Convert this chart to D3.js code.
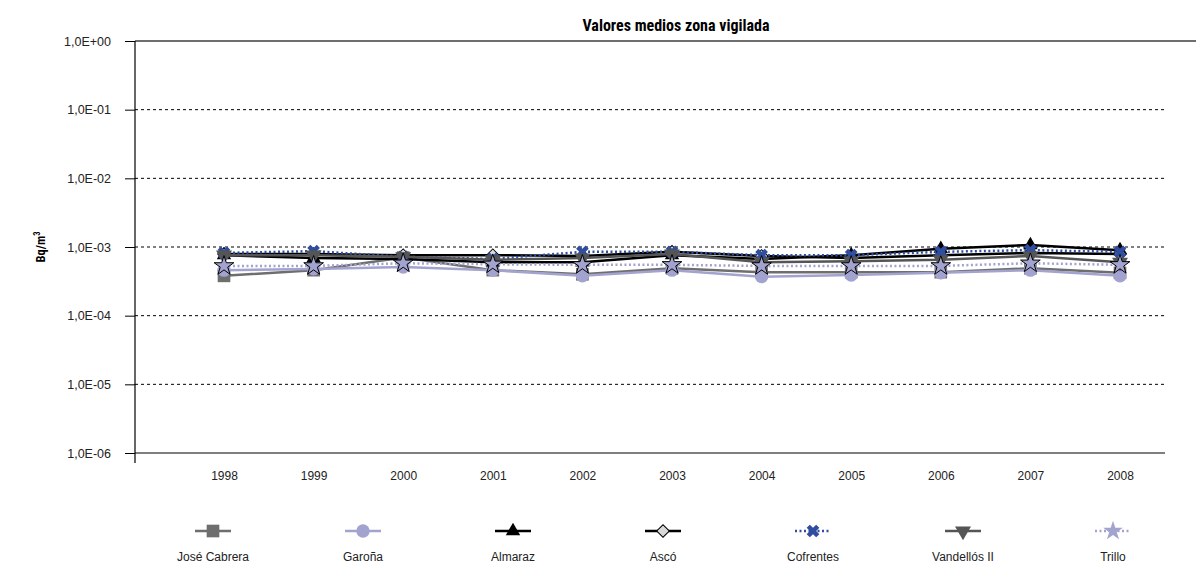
<!DOCTYPE html>
<html><head><meta charset="utf-8">
<script src="https://cdn.jsdelivr.net/npm/d3@7"></script>
<style>
body{margin:0;background:#fff;}
text{font-family:"Liberation Sans",Arial,sans-serif;}
.bold{font-family:"Roboto Condensed","Liberation Sans Narrow","Liberation Sans",sans-serif;font-weight:bold;}
</style></head>
<body><svg id="c" width="1196" height="565"></svg>
<script>
const years = ["1998","1999","2000","2001","2002","2003","2004","2005","2006","2007","2008"];
const yTicks = [1e0,1e-1,1e-2,1e-3,1e-4,1e-5,1e-6];
const yTickLabels = ["1,0E+00","1,0E-01","1,0E-02","1,0E-03","1,0E-04","1,0E-05","1,0E-06"];
const joseCabrera = [3.8e-4,4.6e-4,7.0e-4,4.6e-4,4.0e-4,4.9e-4,4.3e-4,4.3e-4,4.3e-4,4.9e-4,4.2e-4];
const garona      = [4.6e-4,4.8e-4,5.1e-4,4.6e-4,3.8e-4,4.6e-4,3.7e-4,3.9e-4,4.2e-4,4.6e-4,3.8e-4];
const almaraz     = [7.6e-4,6.9e-4,6.7e-4,6.0e-4,6.0e-4,7.6e-4,6.7e-4,7.6e-4,9.4e-4,1.07e-3,9.0e-4];
const asco        = [7.9e-4,7.9e-4,7.6e-4,7.6e-4,7.4e-4,8.5e-4,7.4e-4,6.9e-4,7.6e-4,8.2e-4,7.9e-4];
const cofrentes   = [8.2e-4,8.7e-4,7.2e-4,6.7e-4,8.5e-4,8.5e-4,7.6e-4,7.6e-4,8.5e-4,9.0e-4,8.5e-4];
const vandellos   = [7.6e-4,7.6e-4,7.2e-4,6.5e-4,6.9e-4,7.9e-4,6.0e-4,6.2e-4,6.5e-4,7.4e-4,6.0e-4];
const trillo      = [5.3e-4,5.3e-4,5.8e-4,5.6e-4,5.5e-4,5.5e-4,5.3e-4,5.3e-4,5.3e-4,5.8e-4,5.5e-4];
const seriesNames = ["José Cabrera","Garoña","Almaraz","Ascó","Cofrentes","Vandellós II","Trillo"];

const series = [
  {name:seriesNames[0], values:joseCabrera, color:"#6e6e6e", dash:null, sym:d3.symbolSquare, size:160, fill:"#6e6e6e", stroke:"none"},
  {name:seriesNames[1], values:garona, color:"#a3a3cf", dash:null, sym:d3.symbolCircle, size:140, fill:"#a3a3cf", stroke:"none"},
  {name:seriesNames[2], values:almaraz, color:"#000", dash:null, sym:d3.symbolTriangle, size:90, fill:"#000", stroke:"none"},
  {name:seriesNames[3], values:asco, color:"#000", dash:null, sym:d3.symbolSquare, size:80, fill:"#d9d9d9", stroke:"#000", rot:45},
  {name:seriesNames[4], values:cofrentes, color:"#2f4ea0", dash:"2,2.5", sym:d3.symbolCross, size:100, fill:"#2f4ea0", stroke:"none", rot:45},
  {name:seriesNames[5], values:vandellos, color:"#555555", dash:null, sym:d3.symbolTriangle, size:110, fill:"#555555", stroke:"none", rot:180},
  {name:seriesNames[6], values:trillo, color:"#a3a3cf", dash:"2,2.5", sym:d3.symbolStar, size:120, fill:"#a3a3cf", stroke:"#000"}
];

const svg = d3.select("#c");
const pLeft = 135, pRight = 1165, pTop = 41, pBottom = 453;
const x = d3.scalePoint().domain(years).range([224, 1120]);
const y = d3.scaleLog().domain([1e-6, 1]).range([pBottom, pTop]);

// gridlines
svg.append("g").selectAll("line").data(yTicks.slice(1, -1)).join("line")
  .attr("x1", pLeft).attr("x2", pRight).attr("y1", d => y(d)).attr("y2", d => y(d))
  .attr("stroke", "#000").attr("stroke-width", 1).attr("stroke-dasharray", "3,3");
svg.append("line").attr("x1", pLeft).attr("x2", 1196).attr("y1", y(1)).attr("y2", y(1))
  .attr("stroke", "#6e6e6e").attr("stroke-width", 2);

// y axis
const yAxis = d3.axisLeft(y).tickValues(yTicks).tickFormat((d, i) => yTickLabels[i]).tickSize(10).tickPadding(14);
const ga = svg.append("g").attr("transform", `translate(${pLeft},0)`).call(yAxis);
ga.select(".domain").remove();
ga.selectAll(".tick line").attr("stroke", "#000");
ga.selectAll("text").attr("font-size", 12.5).attr("fill", "#222").attr("font-family", "Liberation Sans, sans-serif");
svg.append("line").attr("x1", pLeft).attr("x2", pLeft).attr("y1", pTop).attr("y2", pBottom + 10).attr("stroke", "#000").attr("stroke-width", 1.2);
svg.append("line").attr("x1", pLeft).attr("x2", pRight).attr("y1", pBottom).attr("y2", pBottom).attr("stroke", "#000").attr("stroke-width", 1.2);

// x axis labels
const xAxis = d3.axisBottom(x).tickSize(0).tickPadding(18);
const gx = svg.append("g").attr("transform", `translate(0,${pBottom})`).call(xAxis);
gx.select(".domain").remove();
gx.selectAll("text").attr("font-size", 12).attr("fill", "#222").attr("font-family", "Liberation Sans, sans-serif");

// title and y label
svg.append("text").attr("class", "bold").attr("x", 676).attr("y", 31).attr("text-anchor", "middle")
  .attr("font-size", 16).text("Valores medios zona vigilada");
const yl = svg.append("text").attr("class", "bold").attr("transform", `translate(45,${y(1e-3)}) rotate(-90)`)
  .attr("text-anchor", "middle").attr("font-size", 12.5);
yl.append("tspan").text("Bq/m");
yl.append("tspan").attr("font-size", 8.5).attr("dy", -5).text("3");

// series
const line = d3.line().x((d, i) => x(years[i])).y(d => y(d));
series.forEach(s => {
  const g = svg.append("g");
  g.append("path").datum(s.values).attr("d", line).attr("fill", "none")
    .attr("stroke", s.color).attr("stroke-width", 2.5).attr("stroke-dasharray", s.dash);
  g.selectAll("path.m").data(s.values).join("path").attr("class", "m")
    .attr("d", d3.symbol().type(s.sym).size(s.size))
    .attr("transform", (d, i) => `translate(${x(years[i])},${y(d)}) rotate(${s.rot || 0})`)
    .attr("fill", s.fill).attr("stroke", s.stroke).attr("stroke-width", 1);
});

// legend
const lx = d3.scalePoint().domain(seriesNames).range([213, 1113]);
series.forEach(s => {
  const cx = lx(s.name), cy = 531;
  const g = svg.append("g");
  g.append("line").attr("x1", cx - 18).attr("x2", cx + 18).attr("y1", cy).attr("y2", cy)
    .attr("stroke", s.color).attr("stroke-width", 2.5).attr("stroke-dasharray", s.dash);
  g.append("path").attr("d", d3.symbol().type(s.sym).size(s.size))
    .attr("transform", `translate(${cx},${cy}) rotate(${s.rot || 0})`)
    .attr("fill", s.fill).attr("stroke", s.name === "Trillo" ? "none" : s.stroke);
  g.append("text").attr("x", cx).attr("y", 561).attr("text-anchor", "middle")
    .attr("font-size", 12).attr("fill", "#222").text(s.name);
});
</script></body></html>
